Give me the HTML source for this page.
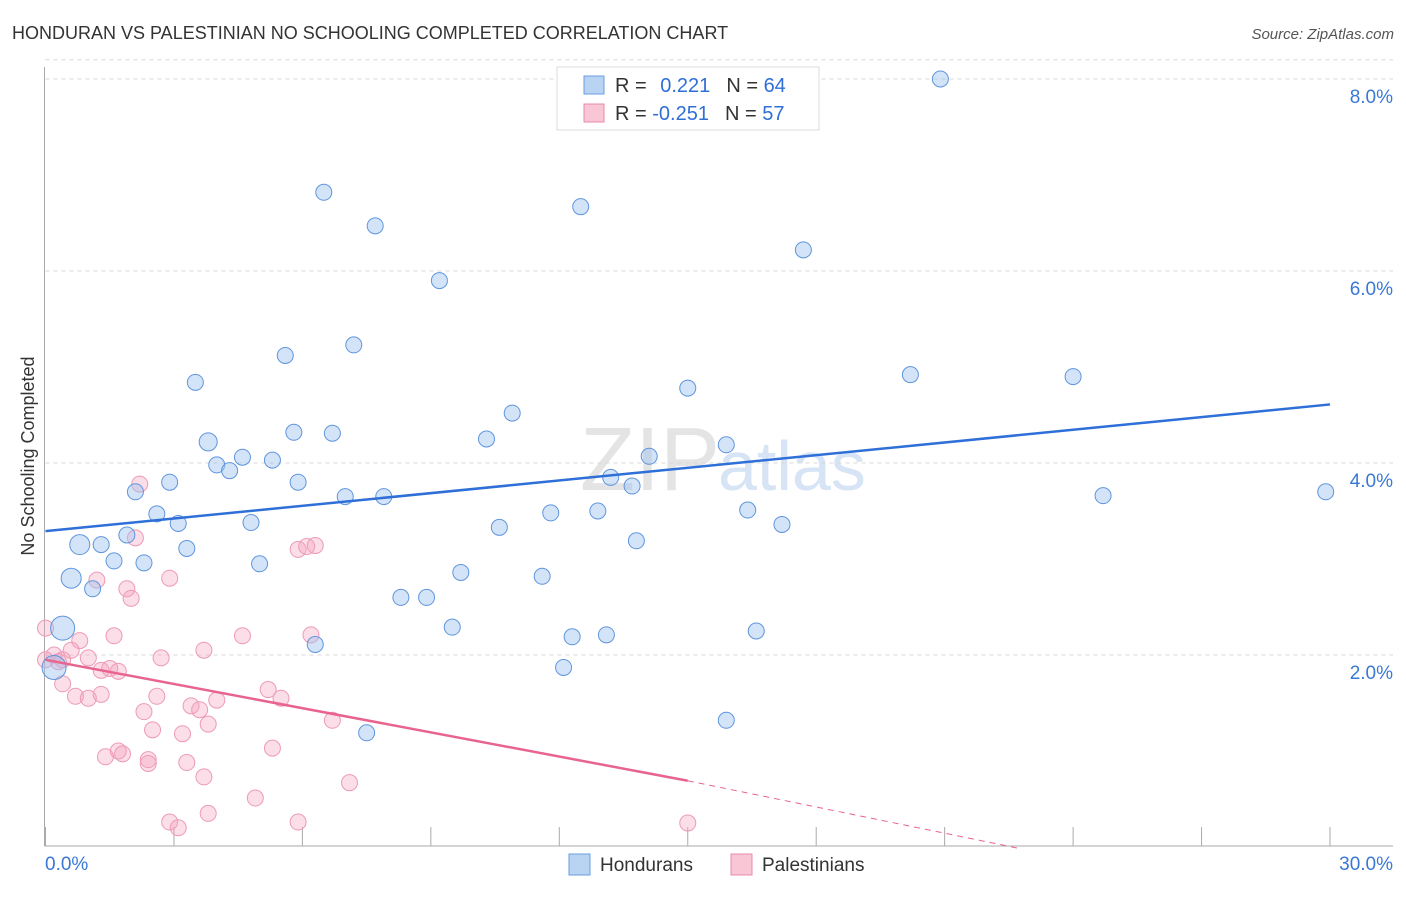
<!DOCTYPE html>
<html><head><meta charset="utf-8"><style>
body{margin:0;background:#fff;font-family:"Liberation Sans",sans-serif}
svg text{font-family:"Liberation Sans",sans-serif}
</style></head><body>
<svg id="chart" width="1406" height="892" xmlns="http://www.w3.org/2000/svg">
<text x="12" y="39" font-size="18" fill="#333">HONDURAN VS PALESTINIAN NO SCHOOLING COMPLETED CORRELATION CHART</text>
<text x="1394" y="39" font-size="15" fill="#555" text-anchor="end" font-style="italic">Source: ZipAtlas.com</text>
<text x="720" y="490" font-size="90" fill="#e4e4e4" text-anchor="end" font-family="Liberation Serif">ZIP</text>
<text x="718" y="490" font-size="70" fill="#d6e4f5">atlas</text>
<g id="grid"></g><g id="axes"></g><g id="pts"></g><g id="lines"></g>
<text x="34" y="456" font-size="18" fill="#333" text-anchor="middle" transform="rotate(-90 34 456)">No Schooling Completed</text>
<g>
<rect x="557" y="67" width="262" height="63" fill="#fff" stroke="#ddd"/>
<rect x="584" y="76" width="20" height="18" fill="#b9d3f3" stroke="#6a9ee0"/>
<rect x="584" y="104" width="20" height="18" fill="#f9c6d6" stroke="#e58aa8"/>
<text x="615" y="92" font-size="20" fill="#333">R = <tspan fill="#2f6fd6" dx="8">0.221</tspan><tspan dx="16" fill="#333">N = </tspan><tspan fill="#2f6fd6">64</tspan></text>
<text x="615" y="120" font-size="20" fill="#333">R = <tspan fill="#2f6fd6">-0.251</tspan><tspan dx="16" fill="#333">N = </tspan><tspan fill="#2f6fd6">57</tspan></text>
</g>
<g>
<rect x="569" y="854" width="21" height="21" fill="#b9d3f3" stroke="#6a9ee0"/>
<text x="600" y="871" font-size="19" fill="#333">Hondurans</text>
<rect x="731" y="854" width="21" height="21" fill="#f9c6d6" stroke="#e58aa8"/>
<text x="762" y="871" font-size="19" fill="#333">Palestinians</text>
</g>
</svg>
<script>
const NS="http://www.w3.org/2000/svg";
const yTicks=[2,4,6,8];
const yTickLabels=["2.0%","4.0%","6.0%","8.0%"];
const xTickVals=[0,3,6,9,12,15,18,21,24,27,30];
const hondX=[20.9,6.5,12.5,7.7,17.7,9.2,5.6,7.2,3.5,20.2,24.0,15.0,10.9,3.8,5.8,6.7,10.3,15.9,4.6,5.3,4.0,4.3,14.1,13.2,2.9,13.7,2.1,5.9,7.0,7.9,24.7,29.9,2.6,3.1,4.8,11.8,12.9,16.4,10.6,17.2,1.9,0.8,1.3,3.3,13.8,1.6,2.3,5.0,0.6,9.7,11.6,1.1,8.3,8.9,9.5,0.4,16.6,12.3,13.1,6.3,12.1,0.2,7.5,15.9];
const hondY=[8.0,6.82,6.67,6.47,6.22,5.90,5.12,5.23,4.84,4.92,4.90,4.78,4.52,4.22,4.32,4.31,4.25,4.19,4.06,4.03,3.98,3.92,4.07,3.85,3.80,3.76,3.70,3.80,3.65,3.65,3.66,3.70,3.47,3.37,3.38,3.48,3.50,3.51,3.33,3.36,3.25,3.15,3.15,3.11,3.19,2.98,2.96,2.95,2.80,2.86,2.82,2.69,2.60,2.60,2.29,2.28,2.25,2.19,2.21,2.11,1.87,1.87,1.19,1.32];
const hondR=[8,8,8,8,8,8,8,8,8,8,8,8,8,9,8,8,8,8,8,8,8,8,8,8,8,8,8,8,8,8,8,8,8,8,8,8,8,8,8,8,8,10,8,8,8,8,8,8,10,8,8,8,8,8,8,12,8,8,8,8,8,12,8,8];
const palX=[2.2,2.1,1.2,2.9,1.9,2.0,5.9,6.1,6.3,1.6,0.8,4.6,6.2,0,0.2,0.4,0.6,1.0,1.3,1.5,1.7,2.7,3.7,0.4,0.7,1.0,1.3,2.6,2.3,3.4,3.6,4.0,3.8,5.2,5.5,6.7,2.5,3.2,1.7,1.4,1.8,2.4,2.4,3.3,5.3,3.7,7.1,4.9,3.8,2.9,3.1,5.9,15.0,0,0.3];
const palY=[3.78,3.22,2.78,2.80,2.69,2.59,3.10,3.13,3.14,2.20,2.15,2.20,2.21,2.28,2.00,1.95,2.05,1.97,1.84,1.86,1.83,1.97,2.05,1.70,1.57,1.55,1.59,1.57,1.41,1.47,1.43,1.53,1.28,1.64,1.55,1.32,1.22,1.18,1.00,0.94,0.97,0.91,0.87,0.88,1.03,0.73,0.67,0.51,0.35,0.26,0.20,0.26,0.25,1.95,1.93];
const hondTrend=[3.29,4.61];
const palTrend=[1.95,0.69,-0.02];
const X0=45.5,X1=1330,YB=847,PX=96;
const sx=v=>X0+(v/30)*(X1-X0), sy=v=>YB-v*PX;
function mk(tag,attrs,parent){const e=document.createElementNS(NS,tag);for(const k in attrs)e.setAttribute(k,attrs[k]);parent.appendChild(e);return e;}
const grid=document.getElementById('grid'),axes=document.getElementById('axes'),pts=document.getElementById('pts'),lines=document.getElementById('lines');
yTicks.forEach((t,i)=>{
 const g=mk('line',{x1:X0,x2:1393,y1:sy(t),y2:sy(t),stroke:'#d8d8d8','stroke-dasharray':'4,4'},grid);
 
 
 const tx=mk('text',{x:1393,y:sy(t)+24,'font-size':19,fill:'#3a78d6','text-anchor':'end'},axes);
 tx.textContent=yTickLabels[i];
 
 
});
mk('line',{x1:X0,x2:1393,y1:sy(8.2),y2:sy(8.2),stroke:'#d8d8d8','stroke-dasharray':'4,4'},grid);
const ax=mk('line',{x1:44.5,x2:44.5,y1:67,y2:846,stroke:'#aaa'},axes);


const bx=mk('line',{x1:44.5,x2:1393,y1:846,y2:846,stroke:'#aaa'},axes);


xTickVals.forEach(v=>{const t=mk('line',{x1:sx(v),x2:sx(v),y1:827,y2:846,stroke:'#aaa'},axes);
 
 });
const xl=mk('text',{x:45,y:870,'font-size':19,fill:'#3a78d6'},axes);xl.textContent='0.0%';


const xr=mk('text',{x:1393,y:870,'font-size':19,fill:'#3a78d6','text-anchor':'end'},axes);xr.textContent='30.0%';


palX.forEach((v,i)=>{const c=mk('circle',{cx:sx(v),cy:sy(palY[i]),r:8,fill:'rgba(244,160,188,0.35)',stroke:'#ee9ab6','stroke-width':1},pts);
 
 });
hondX.forEach((v,i)=>{const c=mk('circle',{cx:sx(v),cy:sy(hondY[i]),r:hondR[i],fill:'rgba(160,196,240,0.45)',stroke:'#5f95dd','stroke-width':1},pts);
 
 });
const hl=mk('line',{x1:sx(0),y1:sy(hondTrend[0]),x2:sx(30),y2:sy(hondTrend[1]),stroke:'#2e6fd8','stroke-width':2.5},lines);


const pl=mk('line',{x1:sx(0),y1:sy(palTrend[0]),x2:sx(15),y2:sy(palTrend[1]),stroke:'#e8648e','stroke-width':2.5},lines);


const pd=mk('line',{x1:sx(15),y1:sy(palTrend[1]),x2:sx(22.8),y2:sy(palTrend[2]),stroke:'#e8648e','stroke-width':1,'stroke-dasharray':'6,5'},lines);


</script>
</body></html>
